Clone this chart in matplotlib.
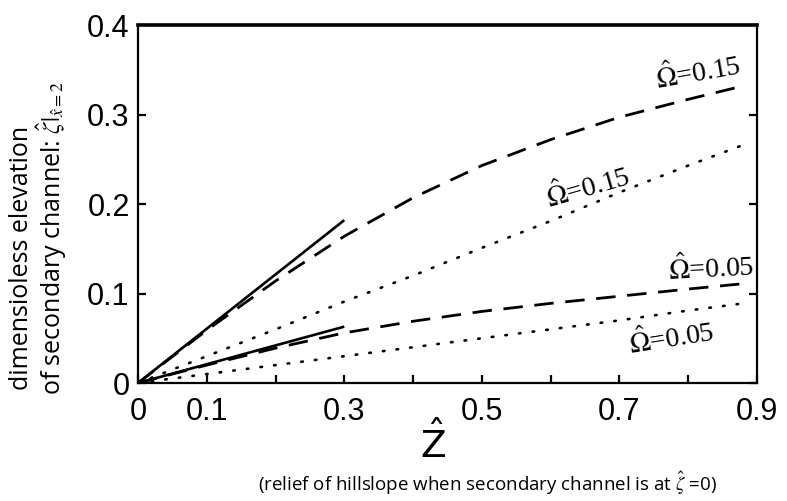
import matplotlib
matplotlib.use("Agg")
import matplotlib.pyplot as plt
from matplotlib.ticker import FixedLocator, FixedFormatter

plt.rcParams["mathtext.fontset"] = "stix"

# Relief of hillslope (x) and elevation of the secondary channel (y)
z_solid = [0.0, 0.3]
solid_015 = [0.0, 0.182]
solid_005 = [0.0, 0.063]

z_curve = [0.0, 0.1, 0.2, 0.3, 0.4, 0.5, 0.6, 0.7, 0.8, 0.88]
dashed_015 = [0.0, 0.059, 0.114, 0.164, 0.207, 0.243, 0.272, 0.297, 0.317, 0.332]
dashed_005 = [0.0, 0.020, 0.039, 0.056, 0.069, 0.080, 0.089, 0.097, 0.105, 0.111]
dotted_015 = [0.0, 0.030, 0.060, 0.091, 0.120, 0.151, 0.181, 0.213, 0.243, 0.266]
dotted_005 = [0.0, 0.010, 0.020, 0.030, 0.040, 0.050, 0.060, 0.070, 0.081, 0.089]

x_ticks = [0.0, 0.1, 0.2, 0.3, 0.4, 0.5, 0.6, 0.7, 0.8, 0.9]
x_ticklabels = ["0", "0.1", "", "0.3", "", "0.5", "", "0.7", "", "0.9"]
y_ticks = [0.0, 0.1, 0.2, 0.3, 0.4]
y_ticklabels = ["0", "0.1", "0.2", "0.3", "0.4"]

fig = plt.figure(figsize=(7.87, 5.01), dpi=100)
ax = fig.add_axes([0.1753, 0.2355, 0.7866, 0.7145])

ax.plot(z_solid, solid_015, color="black", lw=1.9, solid_capstyle="butt")
ax.plot(z_solid, solid_005, color="black", lw=1.9, solid_capstyle="butt")
ax.plot(z_curve, dashed_015, color="black", lw=2.0, linestyle=(0, (7.0, 4.2)))
ax.plot(z_curve, dashed_005, color="black", lw=2.0, linestyle=(0, (7.0, 4.2)))
ax.plot(z_curve, dotted_015, color="black", lw=1.9, linestyle=(0, (0.6, 4.6)),
        dash_capstyle="round")
ax.plot(z_curve, dotted_005, color="black", lw=1.9, linestyle=(0, (0.6, 4.6)),
        dash_capstyle="round")

ax.set_xlim(0, 0.9)
ax.set_ylim(0, 0.4)

ax.xaxis.set_major_locator(FixedLocator(x_ticks))
ax.xaxis.set_major_formatter(FixedFormatter(x_ticklabels))
ax.yaxis.set_major_locator(FixedLocator(y_ticks))
ax.yaxis.set_major_formatter(FixedFormatter(y_ticklabels))
ax.tick_params(axis="both", direction="in", length=6, width=1.6,
               labelsize=22, right=True, top=False)
ax.tick_params(axis="x", pad=10)
ax.tick_params(axis="y", pad=6)
for lab in ax.get_xticklabels() + ax.get_yticklabels():
    lab.set_family("Liberation Sans")

for side in ["left", "bottom", "right"]:
    ax.spines[side].set_linewidth(1.6)
ax.spines["top"].set_linewidth(2.6)

# Curve labels
lab_kw = dict(fontsize=20, family="Liberation Serif", ha="center", va="center",
              rotation_mode="anchor")
ax.text(0.815, 0.347, r"$\hat{\Omega}$=0.15", rotation=10, **lab_kw)
ax.text(0.654, 0.219, r"$\hat{\Omega}$=0.15", rotation=16, **lab_kw)
ax.text(0.833, 0.128, r"$\hat{\Omega}$=0.05", rotation=3, **lab_kw)
ax.text(0.776, 0.050, r"$\hat{\Omega}$=0.05", rotation=9, **lab_kw)

# Axis titles
fig.text(433 / 787, 1 - 444 / 501, r"$\hat{\mathrm{Z}}$", fontsize=27,
         math_fontfamily="dejavusans", ha="center", va="center")
fig.text(488 / 787, 1 - 483 / 501,
         r"(relief of hillslope when secondary channel is at $\hat{\zeta}$ =0)",
         fontsize=13.5, family="Open Sans", ha="center", va="center")
fig.text(22 / 787, 1 - 258 / 501, "dimensioless elevation", rotation=90,
         fontsize=18, family="Open Sans", ha="center", va="center")
fig.text(52 / 787, 1 - 238 / 501,
         r"of secondary channel: $\hat{\zeta}|_{\hat{x}=2}$", rotation=90,
         fontsize=18, family="Open Sans", ha="center", va="center")

fig.savefig("out.png", dpi=100)
